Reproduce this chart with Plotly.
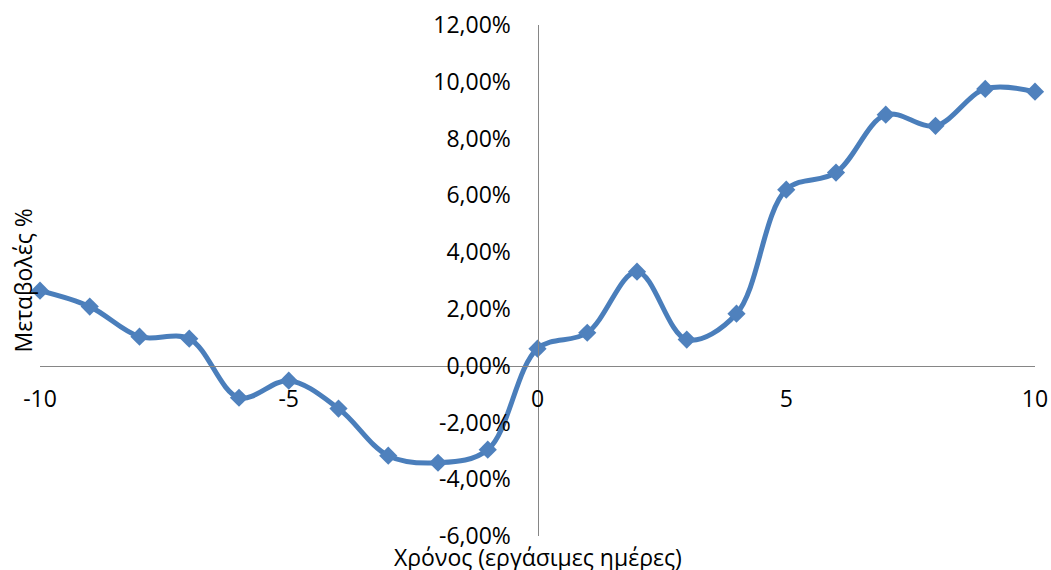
import plotly.graph_objects as go

days = [-10, -9, -8, -7, -6, -5, -4, -3, -2, -1, 0, 1, 2, 3, 4, 5, 6, 7, 8, 9, 10]
change = [0.0264, 0.0208, 0.0102, 0.0095, -0.0113, -0.0053, -0.0151, -0.0317, -0.0342, -0.0296,
          0.0060, 0.0116, 0.0331, 0.0092, 0.0183, 0.0620, 0.0680, 0.0884, 0.0845, 0.0975, 0.0965]

x_tickvals = [-10, -5, 0, 5, 10]
x_ticktext = ["-10", "-5", "0", "5", "10"]
y_tickvals = [-0.06, -0.04, -0.02, 0.0, 0.02, 0.04, 0.06, 0.08, 0.10, 0.12]
y_ticktext = ["-6,00%", "-4,00%", "-2,00%", "0,00%", "2,00%", "4,00%", "6,00%", "8,00%", "10,00%", "12,00%"]

x_title = "Χρόνος (εργάσιμες ημέρες)"
y_title = "Μεταβολές %"

FONT = "Open Sans"
fig = go.Figure()
fig.add_trace(go.Scatter(
    x=days, y=change, mode="lines+markers",
    line=dict(color="#4A7EBB", width=5, shape="spline", smoothing=1),
    marker=dict(symbol="diamond", size=14, color="#4F81BD", line=dict(width=0)),
    cliponaxis=False, showlegend=False,
))

x_range = [-10, 10]
y_range = [-0.06, 0.12]

fig.update_layout(
    template="none",
    width=1051, height=570,
    margin=dict(l=40, r=16, t=25, b=34, autoexpand=False),
    paper_bgcolor="white", plot_bgcolor="white",
    font=dict(family=FONT, size=23, color="black"),
    xaxis=dict(range=x_range, tickvals=x_tickvals, ticktext=x_ticktext, automargin=False,
               showgrid=False, zeroline=False, showline=True, linecolor="#868686", linewidth=1,
               anchor="free", position=(0 - y_range[0]) / (y_range[1] - y_range[0]),
               ticks="", ticklabelstandoff=13),
    yaxis=dict(range=y_range, tickvals=y_tickvals, ticktext=y_ticktext, automargin=False,
               showgrid=False, zeroline=False, showline=True, linecolor="#868686", linewidth=1,
               anchor="free", position=(0 - x_range[0]) / (x_range[1] - x_range[0]),
               ticks="", ticklabelstandoff=22),
    annotations=[
        dict(text=x_title, xref="paper", yref="paper", x=0.5, y=0, xanchor="center",
             yanchor="middle", yshift=-21, showarrow=False, font=dict(size=23)),
        dict(text=y_title, xref="paper", yref="paper", x=0, y=0.5, xanchor="center",
             yanchor="middle", xshift=-18, textangle=-90, showarrow=False, font=dict(size=23)),
    ],
)

fig.write_html("out.html")
